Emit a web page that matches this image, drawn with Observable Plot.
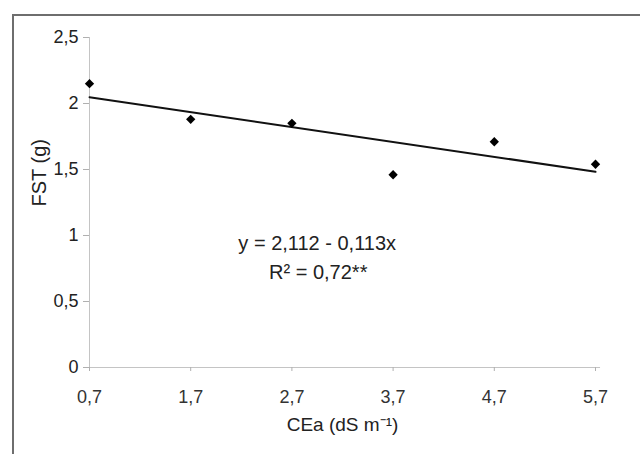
<!DOCTYPE html>
<html>
<head>
<meta charset="utf-8">
<script src="https://cdn.jsdelivr.net/npm/d3@7"></script>
<script src="https://cdn.jsdelivr.net/npm/@observablehq/plot@0.6"></script>
<style>
  html, body { margin: 0; padding: 0; background: #fff; overflow: hidden; }
  #wrap { position: relative; width: 640px; height: 454px; overflow: hidden; }
  #border { position: absolute; left: 12px; top: 14px; width: 700px; height: 600px; border: 2px solid #6e6e6e; box-sizing: border-box; }
  #chart { position: absolute; left: 0; top: 0; }
</style>
</head>
<body>
<div id="wrap"><div id="border"></div><div id="chart"></div></div>
<script>
// Data
const cea = [0.7, 1.7, 2.7, 3.7, 4.7, 5.7];
const fst = [2.15, 1.88, 1.85, 1.46, 1.71, 1.54];
const xTicks = [0.7, 1.7, 2.7, 3.7, 4.7, 5.7];
const yTicks = [0, 0.5, 1, 1.5, 2, 2.5];
const equationLabel = "y = 2,112 - 0,113x";
const r2Label = "R² = 0,72**";
const xLabel = "CEa (dS m⁻¹)";
const yLabel = "FST (g)";

const rows = cea.map((x, i) => ({x, y: fst[i]}));
const comma = d => String(d).replace(".", ",");
const font = "'Liberation Sans', Arial, sans-serif";

const chart = Plot.plot({
  width: 640,
  height: 454,
  marginLeft: 89,
  marginRight: 45,
  marginTop: 37,
  marginBottom: 87,
  style: {fontFamily: font, fontSize: "18px", background: "transparent", color: "#222", overflow: "visible"},
  x: {domain: [0.7, 5.7], axis: null},
  y: {domain: [0, 2.5], axis: null},
  marks: [
    Plot.ruleX([0.7], {stroke: "#c4c4c4", strokeWidth: 1}),
    Plot.ruleY([0], {x1: 0.7, x2: 5.75, stroke: "#c4c4c4", strokeWidth: 1}),
    Plot.axisY({ticks: yTicks, tickFormat: comma, tickSize: 6, tickPadding: 5, stroke: "#b0b0b0", fill: "#222", fontSize: 18, label: null}),
    Plot.axisX({ticks: xTicks, tickFormat: d => d.toFixed(1).replace(".", ","), tickSize: 4, tickPadding: 19, stroke: "#b0b0b0", fill: "#333", fontSize: 18, label: null}),
    Plot.linearRegressionY(rows, {x: "x", y: "y", ci: 0, stroke: "#111", strokeWidth: 2}),
    Plot.dot(rows, {x: "x", y: "y", symbol: "diamond2", r: 4.2, fill: "#000", stroke: "none"}),
    Plot.text([equationLabel], {x: 2.95, y: 0.94, text: d => d, fontSize: 20, fill: "#222", style: "letter-spacing:0.6px"}),
    Plot.text([r2Label], {x: 2.96, y: 0.72, text: d => d, fontSize: 20, fill: "#222", style: "letter-spacing:0.6px"}),
    Plot.text([xLabel], {frameAnchor: "bottom", dy: 63, text: d => d, fontSize: 19, fill: "#222"}),
    Plot.text([yLabel], {frameAnchor: "left", dx: -50, dy: 4, rotate: -90, text: d => d, fontSize: 20, fill: "#222"})
  ]
});
document.getElementById("chart").appendChild(chart);
</script>
</body>
</html>
